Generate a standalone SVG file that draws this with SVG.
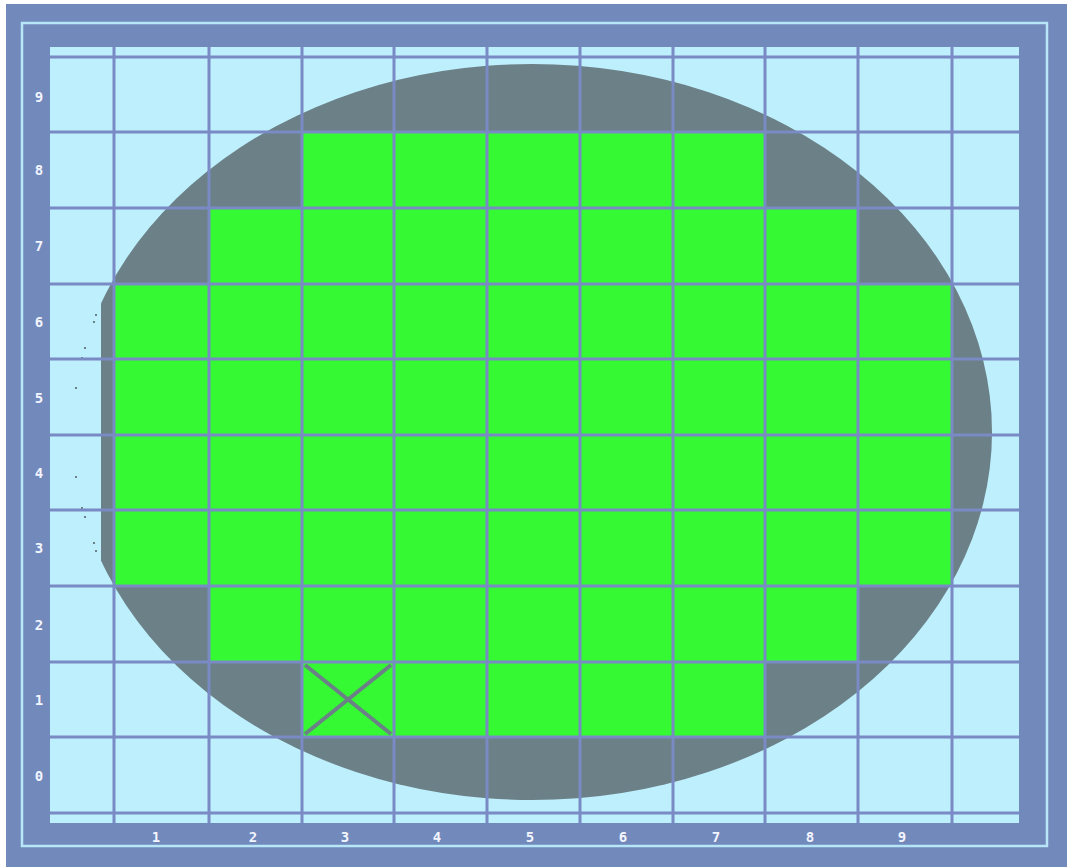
<svg xmlns="http://www.w3.org/2000/svg" width="1067" height="867" viewBox="0 0 1067 867">
<style>
.frame{fill:#7289bb}
.border{fill:none;stroke:#b6e6f8;stroke-width:2.5}
.field{fill:#bdeffd}
.wafer{fill:#6b8087}
.die{fill:#35fa33}
.grid line{stroke:#7a8ac4;stroke-width:3}
.lbl{font-family:"DejaVu Sans Mono","Liberation Mono",monospace;font-weight:bold;font-size:14px;fill:#f2f5ff;text-anchor:middle}
.dot{fill:#6b8087}
</style>
<defs>
<clipPath id="flat"><rect x="101" y="0" width="966" height="867"/></clipPath>
</defs>
<rect x="0" y="0" width="1067" height="867" fill="#ffffff"/>
<rect class="frame" x="6" y="4" width="1061" height="863"/>
<rect class="border" x="22" y="23" width="1025" height="823"/>
<rect class="field" x="50" y="47" width="969" height="776"/>
<g id="wafer">
<ellipse class="wafer" cx="532" cy="432" rx="460" ry="368" clip-path="url(#flat)"/>
<rect class="dot" x="95" y="314" width="2" height="2"/>
<rect class="dot" x="93" y="321" width="2" height="2"/>
<rect class="dot" x="84" y="347" width="2" height="2"/>
<rect class="dot" x="81" y="357" width="2" height="2"/>
<rect class="dot" x="75" y="387" width="2" height="2"/>
<rect class="dot" x="75" y="476" width="2" height="2"/>
<rect class="dot" x="81" y="507" width="2" height="2"/>
<rect class="dot" x="84" y="516" width="2" height="2"/>
<rect class="dot" x="93" y="542" width="2" height="2"/>
<rect class="dot" x="95" y="550" width="2" height="2"/>
</g>
<g id="dies">
<rect class="die" x="302" y="132" width="463" height="76"/>
<rect class="die" x="209" y="208" width="649" height="76"/>
<rect class="die" x="114" y="284" width="838" height="302"/>
<rect class="die" x="209" y="586" width="649" height="76"/>
<rect class="die" x="302" y="662" width="463" height="75"/>
</g>
<g id="grid" class="grid">
<line x1="114" y1="47" x2="114" y2="823"/>
<line x1="209" y1="47" x2="209" y2="823"/>
<line x1="302" y1="47" x2="302" y2="823"/>
<line x1="394" y1="47" x2="394" y2="823"/>
<line x1="487" y1="47" x2="487" y2="823"/>
<line x1="580" y1="47" x2="580" y2="823"/>
<line x1="673" y1="47" x2="673" y2="823"/>
<line x1="765" y1="47" x2="765" y2="823"/>
<line x1="858" y1="47" x2="858" y2="823"/>
<line x1="952" y1="47" x2="952" y2="823"/>
<line x1="50" y1="57" x2="1019" y2="57"/>
<line x1="50" y1="132" x2="1019" y2="132"/>
<line x1="50" y1="208" x2="1019" y2="208"/>
<line x1="50" y1="284" x2="1019" y2="284"/>
<line x1="50" y1="359" x2="1019" y2="359"/>
<line x1="50" y1="435" x2="1019" y2="435"/>
<line x1="50" y1="510" x2="1019" y2="510"/>
<line x1="50" y1="586" x2="1019" y2="586"/>
<line x1="50" y1="662" x2="1019" y2="662"/>
<line x1="50" y1="737" x2="1019" y2="737"/>
<line x1="50" y1="813" x2="1019" y2="813"/>
</g>
<g id="reject-mark" stroke="#6b8087" stroke-width="4">
<line x1="305" y1="665" x2="391" y2="734"/>
<line x1="391" y1="665" x2="305" y2="734"/>
</g>
<g id="row-labels" class="lbl">
<text x="39" y="102">9</text>
<text x="39" y="175">8</text>
<text x="39" y="251">7</text>
<text x="39" y="327">6</text>
<text x="39" y="403">5</text>
<text x="39" y="478">4</text>
<text x="39" y="553">3</text>
<text x="39" y="630">2</text>
<text x="39" y="705">1</text>
<text x="39" y="781">0</text>
</g>
<g id="col-labels" class="lbl">
<text x="156" y="842">1</text>
<text x="253" y="842">2</text>
<text x="345" y="842">3</text>
<text x="437" y="842">4</text>
<text x="530" y="842">5</text>
<text x="623" y="842">6</text>
<text x="716" y="842">7</text>
<text x="810" y="842">8</text>
<text x="902" y="842">9</text>
</g>
</svg>
